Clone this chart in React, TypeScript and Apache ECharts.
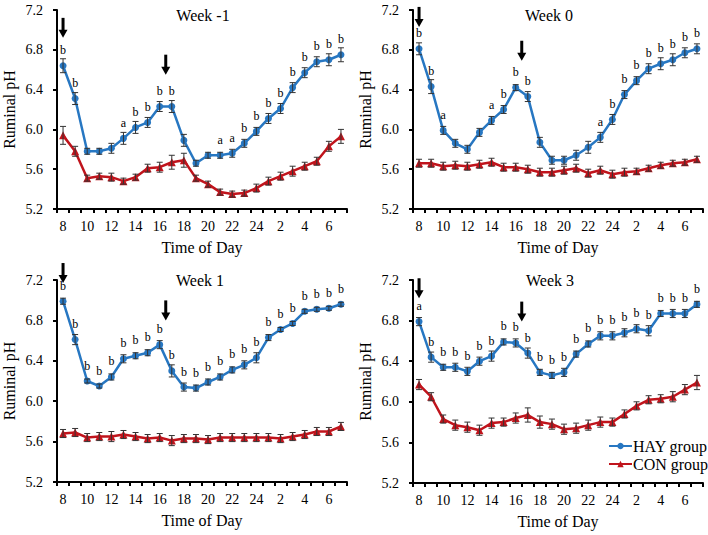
import React, { useEffect, useRef } from "react";
import * as echarts from "echarts";

const hours = ["8","9","10","11","12","13","14","15","16","17","18","19","20","21","22","23","24","1","2","3","4","5","6","7"];
const weekTitles = ["Week -1", "Week 0", "Week 1", "Week 3"];

const hayWeekM1 = [6.64,6.31,5.78,5.78,5.81,5.91,6.02,6.07,6.23,6.23,5.89,5.66,5.74,5.74,5.76,5.86,5.98,6.11,6.21,6.42,6.57,6.68,6.70,6.75];
const conWeekM1 = [5.94,5.78,5.51,5.53,5.52,5.48,5.52,5.61,5.62,5.67,5.69,5.51,5.45,5.37,5.35,5.36,5.41,5.48,5.53,5.58,5.63,5.68,5.83,5.93];
const hayWeek0 = [6.81,6.43,5.99,5.86,5.80,5.97,6.09,6.20,6.42,6.33,5.87,5.69,5.69,5.74,5.82,5.92,6.10,6.35,6.49,6.61,6.66,6.70,6.77,6.81];
const conWeek0 = [5.66,5.66,5.63,5.64,5.63,5.65,5.67,5.62,5.62,5.60,5.57,5.57,5.59,5.61,5.56,5.59,5.55,5.57,5.58,5.61,5.64,5.66,5.67,5.70];
const hayWeek1 = [6.99,6.61,6.20,6.15,6.24,6.42,6.45,6.48,6.56,6.30,6.14,6.13,6.19,6.24,6.31,6.36,6.43,6.63,6.71,6.77,6.89,6.91,6.92,6.96];
const conWeek1 = [5.68,5.69,5.64,5.65,5.65,5.67,5.65,5.63,5.64,5.61,5.63,5.63,5.62,5.64,5.64,5.64,5.64,5.64,5.63,5.65,5.67,5.70,5.70,5.75];
const hayWeek3 = [6.79,6.44,6.34,6.34,6.30,6.40,6.45,6.59,6.58,6.48,6.29,6.26,6.29,6.47,6.57,6.65,6.65,6.68,6.72,6.70,6.87,6.87,6.87,6.96];
const conWeek3 = [6.17,6.05,5.83,5.77,5.75,5.72,5.79,5.80,5.84,5.87,5.80,5.78,5.73,5.74,5.77,5.80,5.80,5.88,5.96,6.02,6.03,6.05,6.12,6.19];

const hayErrWeekM1 = [0.07,0.06,0.03,0.03,0.05,0.06,0.06,0.05,0.05,0.06,0.06,0.03,0.03,0.03,0.04,0.04,0.04,0.05,0.05,0.05,0.05,0.05,0.06,0.07];
const conErrWeekM1 = [0.09,0.05,0.03,0.03,0.04,0.03,0.03,0.04,0.05,0.07,0.07,0.03,0.03,0.03,0.03,0.03,0.04,0.04,0.04,0.05,0.04,0.04,0.05,0.07];
const hayErrWeek0 = [0.06,0.07,0.04,0.04,0.04,0.04,0.04,0.04,0.03,0.05,0.05,0.04,0.04,0.05,0.06,0.05,0.05,0.04,0.04,0.05,0.06,0.06,0.05,0.05];
const conErrWeek0 = [0.04,0.04,0.04,0.04,0.04,0.04,0.04,0.04,0.04,0.04,0.04,0.04,0.04,0.04,0.04,0.04,0.04,0.04,0.03,0.03,0.03,0.03,0.03,0.03];
const hayErrWeek1 = [0.03,0.05,0.02,0.02,0.03,0.04,0.03,0.03,0.04,0.06,0.04,0.03,0.03,0.03,0.03,0.04,0.05,0.03,0.02,0.02,0.02,0.02,0.02,0.02];
const conErrWeek1 = [0.04,0.04,0.04,0.04,0.05,0.04,0.04,0.04,0.04,0.05,0.04,0.04,0.04,0.04,0.04,0.04,0.04,0.04,0.04,0.04,0.04,0.04,0.04,0.04];
const hayErrWeek3 = [0.04,0.05,0.03,0.04,0.04,0.04,0.05,0.03,0.04,0.05,0.03,0.03,0.04,0.03,0.03,0.04,0.04,0.04,0.04,0.05,0.03,0.04,0.04,0.03];
const conErrWeek3 = [0.05,0.04,0.04,0.05,0.05,0.05,0.05,0.04,0.05,0.07,0.06,0.05,0.05,0.05,0.05,0.05,0.04,0.04,0.04,0.04,0.04,0.05,0.05,0.07];

const lettersWeekM1 = ["b","b","","","","a","b","b","b","b","","","","a","a","b","b","b","b","b","b","b","b","b"];
const lettersWeek0 = ["b","b","a","","","","a","b","b","b","","","","","","a","b","b","b","b","b","b","b","b"];
const lettersWeek1 = ["b","b","b","b","b","b","b","b","b","b","b","b","b","b","b","b","b","b","b","b","b","b","b","b"];
const lettersWeek3 = ["a","b","b","b","b","b","b","b","b","b","b","b","b","b","b","b","b","b","b","b","b","b","b","b"];

// arrows: category positions (feeding times) and the pH value of the arrow tip in each panel
const arrowPositions = [0, 8.5];
const arrowTipsWeekM1 = [6.92, 6.55];
const arrowTipsWeek0 = [7.03, 6.69];
const arrowTipsWeek1 = [7.17, 6.80];
const arrowTipsWeek3 = [7.02, 6.79];

const hayData = [hayWeekM1, hayWeek0, hayWeek1, hayWeek3];
const conData = [conWeekM1, conWeek0, conWeek1, conWeek3];
const hayErr = [hayErrWeekM1, hayErrWeek0, hayErrWeek1, hayErrWeek3];
const conErr = [conErrWeekM1, conErrWeek0, conErrWeek1, conErrWeek3];
const letters = [lettersWeekM1, lettersWeek0, lettersWeek1, lettersWeek3];
const arrowTips = [arrowTipsWeekM1, arrowTipsWeek0, arrowTipsWeek1, arrowTipsWeek3];

const FONT = "Times New Roman, Liberation Serif, DejaVu Serif, serif";
const BLUE = "#2777C2";
const RED = "#C0141C";

const grids = [
  { left: 57, top: 10, width: 290, height: 199 },
  { left: 413, top: 10, width: 290, height: 199 },
  { left: 57, top: 280, width: 290, height: 202 },
  { left: 413, top: 280, width: 290, height: 203 },
];
const titlePos = [[203, 15], [549, 15], [200, 280], [550, 280]];

function errorSeries(g: number, vals: number[], errs: number[]) {
  return {
    type: "custom",
    xAxisIndex: g,
    yAxisIndex: g,
    z: 4,
    silent: true,
    encode: { x: 0, y: [1, 2] },
    data: vals.map((v, i) => [i, v - errs[i], v + errs[i]]),
    renderItem: (params: any, api: any) => {
      const x = api.value(0);
      const lo = api.coord([x, api.value(1)]);
      const hi = api.coord([x, api.value(2)]);
      const cap = 3;
      const st = { stroke: "#333", lineWidth: 1 };
      return {
        type: "group",
        children: [
          { type: "line", shape: { x1: lo[0], y1: lo[1], x2: hi[0], y2: hi[1] }, style: st },
          { type: "line", shape: { x1: lo[0] - cap, y1: lo[1], x2: lo[0] + cap, y2: lo[1] }, style: st },
          { type: "line", shape: { x1: hi[0] - cap, y1: hi[1], x2: hi[0] + cap, y2: hi[1] }, style: st },
        ],
      };
    },
  };
}

export default function App() {
  const ref = useRef<HTMLDivElement>(null);
  useEffect(() => {
    if (!ref.current) return;
    const chart = echarts.init(ref.current, undefined, { renderer: "svg" });
    const xAxes = grids.map((_, g) => ({
      type: "category",
      gridIndex: g,
      data: hours,
      boundaryGap: true,
      name: "Time of Day",
      nameLocation: "middle",
      nameGap: 30,
      nameTextStyle: { fontFamily: FONT, fontSize: 16, color: "#000" },
      axisLine: { lineStyle: { color: "#000", width: 2 } },
      axisTick: { show: true, interval: 0, length: 4, lineStyle: { color: "#000", width: 2 } },
      axisLabel: { interval: 1, margin: 10, fontFamily: FONT, fontSize: 14, color: "#000" },
      splitLine: { show: false },
    }));
    const yAxes = grids.map((_, g) => ({
      type: "value",
      gridIndex: g,
      min: 5.2,
      max: 7.2,
      interval: 0.4,
      name: "Ruminal pH",
      nameLocation: "middle",
      nameGap: 40,
      nameTextStyle: { fontFamily: FONT, fontSize: 16, color: "#000" },
      axisLine: { show: true, lineStyle: { color: "#000", width: 2 } },
      axisTick: { show: true, length: 4, lineStyle: { color: "#000", width: 2 } },
      axisLabel: { margin: 14, fontFamily: FONT, fontSize: 14, color: "#000", formatter: (v: number) => v.toFixed(1) },
      splitLine: { show: false },
    }));
    const series: any[] = [];
    grids.forEach((_, g) => {
      series.push({
        type: "line",
        name: "HAY group",
        xAxisIndex: g,
        yAxisIndex: g,
        data: hayData[g],
        symbol: "circle",
        symbolSize: 7,
        z: 3,
        lineStyle: { color: BLUE, width: 2.5 },
        itemStyle: { color: BLUE },
        label: {
          show: true,
          position: "top",
          distance: 6,
          fontFamily: FONT,
          fontSize: 12,
          color: "#000",
          formatter: (p: any) => letters[g][p.dataIndex],
        },
      });
      series.push({
        type: "line",
        name: "CON group",
        xAxisIndex: g,
        yAxisIndex: g,
        data: conData[g],
        symbol: "triangle",
        symbolSize: 8,
        z: 3,
        lineStyle: { color: RED, width: 2.5 },
        itemStyle: { color: RED },
      });
      series.push(errorSeries(g, hayData[g], hayErr[g]));
      series.push(errorSeries(g, conData[g], conErr[g]));
    });

    const titles = weekTitles.map((t, g) => ({
      type: "text",
      x: titlePos[g][0],
      y: titlePos[g][1],
      style: { text: t, align: "center", verticalAlign: "middle", fontFamily: FONT, fontSize: 16, fill: "#000" },
    }));

    chart.setOption({
      animation: false,
      backgroundColor: "#fff",
      textStyle: { fontFamily: FONT },
      grid: grids.map((gr) => ({ ...gr, containLabel: false })),
      xAxis: xAxes,
      yAxis: yAxes,
      legend: {
        data: ["HAY group", "CON group"],
        orient: "vertical",
        left: 603,
        top: 433,
        itemGap: 2,
        itemWidth: 23,
        itemHeight: 8,
        textStyle: { fontFamily: FONT, fontSize: 16, color: "#000", padding: [0, 0, 0, -4] },
      },
      series,
      graphic: titles,
    });

    const arrows: any[] = [];
    arrowTips.forEach((tips, g) => {
      arrowPositions.forEach((pos, k) => {
        const i0 = Math.floor(pos);
        const i1 = Math.min(i0 + 1, hours.length - 1);
        const a = chart.convertToPixel({ gridIndex: g } as any, [i0, tips[k]]) as number[];
        const b = chart.convertToPixel({ gridIndex: g } as any, [i1, tips[k]]) as number[];
        const x = a[0] + (b[0] - a[0]) * (pos - i0);
        arrows.push({
          type: "group",
          x,
          y: a[1],
          children: [
            { type: "rect", shape: { x: -1.5, y: -20, width: 3, height: 13 }, style: { fill: "#000" } },
            { type: "polygon", shape: { points: [[-4.5, -8], [4.5, -8], [0, 0]] }, style: { fill: "#000" } },
          ],
        });
      });
    });
    chart.setOption({ graphic: [...titles, ...arrows] });

    return () => chart.dispose();
  }, []);
  return <div ref={ref} style={{ position: "fixed", left: 0, top: 0, width: 708, height: 535 }} />;
}
